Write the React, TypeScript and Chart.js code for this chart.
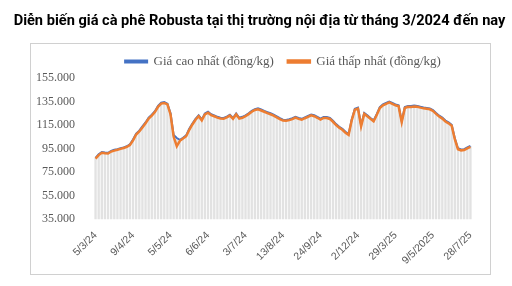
import React, { useEffect, useRef } from "react";
import { Chart, registerables } from "chart.js";

Chart.register(...registerables);

const TITLE = "Diễn biến giá cà phê Robusta tại thị trường nội địa từ tháng 3/2024 đến nay";
const SERIES_HIGH_NAME = "Giá cao nhất (đồng/kg)";
const SERIES_LOW_NAME = "Giá thấp nhất (đồng/kg)";

const tickLabels = ["5/3/24", "9/4/24", "5/5/24", "6/6/24", "3/7/24", "13/8/24", "24/9/24", "2/12/24", "29/3/25", "9/5/2025", "28/7/25"];
const TICK_EVERY = 12;

const highPrices = [87000, 90200, 92000, 91600, 91400, 93000, 94000, 94500, 95300, 96000, 97000, 98600, 102800, 107800, 110200, 113800, 117200, 121300, 123800, 126800, 131300, 134000, 134500, 133200, 125000, 106500, 104000, 102500, 104200, 106200, 111800, 116200, 120200, 123200, 119800, 124800, 126300, 124200, 123200, 122000, 121300, 121000, 122200, 123800, 121000, 124800, 121200, 122000, 123300, 125000, 127000, 128500, 129200, 128200, 127000, 126000, 125000, 123800, 122300, 120800, 119600, 119400, 120000, 120800, 122000, 121000, 120300, 121600, 122800, 124000, 123300, 122000, 120400, 121800, 121800, 121000, 118600, 115800, 113600, 111800, 109300, 107500, 119800, 128800, 129800, 115000, 125300, 123300, 121000, 119000, 124300, 130300, 132600, 133800, 135000, 133800, 132600, 131800, 118300, 130300, 131300, 131200, 131600, 131300, 130600, 130000, 129600, 129200, 127800, 125300, 123000, 121300, 118800, 117300, 115300, 103800, 95300, 94300, 94500, 96000, 97300];

const lowPrices = [86500, 89500, 91500, 91000, 90800, 92500, 93300, 94000, 94800, 95500, 96500, 98000, 102000, 107000, 109500, 113000, 116500, 120500, 123000, 126000, 130500, 133200, 133800, 132500, 124000, 105000, 97000, 101600, 103500, 105500, 111000, 115500, 119500, 122500, 119000, 124000, 125500, 123500, 122500, 121300, 120600, 120300, 121500, 123000, 120300, 124000, 120500, 121200, 122500, 124300, 126300, 127800, 128400, 127400, 126300, 125200, 124200, 123000, 121500, 120000, 118800, 118600, 119200, 120000, 121300, 120300, 119500, 120800, 122000, 123300, 122500, 121200, 119600, 121000, 121000, 120200, 117800, 115000, 112800, 111000, 108500, 106700, 119000, 128000, 129000, 114000, 124500, 122500, 120300, 118200, 123500, 129500, 131800, 133000, 134200, 133000, 131800, 131000, 117500, 129500, 130500, 130400, 130800, 130500, 129800, 129200, 128800, 128400, 127000, 124500, 122300, 120500, 118000, 116500, 114500, 103000, 94500, 93500, 93800, 95200, 96500];

const Y_MIN = 35000;
const Y_MAX = 155000;
const Y_STEP = 20000;

const fmt = (v: number) => String(Math.round(v)).replace(/\B(?=(\d{3})+(?!\d))/g, ".");

const decorPlugin = {
  id: "decor",
  beforeDraw(chart: any) {
    const ctx = chart.ctx;
    ctx.save();
    ctx.fillStyle = "#ffffff";
    ctx.fillRect(0, 0, chart.width, chart.height);
    ctx.strokeStyle = "#d0d0d0";
    ctx.lineWidth = 1;
    ctx.strokeRect(30.5, 43.5, 460, 231);
    ctx.fillStyle = "#000000";
    ctx.font = "bold 14.6px Roboto";
    ctx.textAlign = "center";
    ctx.textBaseline = "alphabetic";
    ctx.fillText(TITLE, 259.5, 25);
    ctx.restore();
  },
};

export default function App() {
  const ref = useRef<HTMLCanvasElement | null>(null);
  useEffect(() => {
    if (!ref.current) return;
    const labels = lowPrices.map((_, i) => (i % TICK_EVERY === 0 ? tickLabels[i / TICK_EVERY] : ""));
    const chart = new Chart(ref.current, {
      type: "bar",
      data: {
        labels,
        datasets: [
          {
            type: "line",
            label: SERIES_HIGH_NAME,
            data: highPrices,
            borderColor: "#4472C4",
            backgroundColor: "#4472C4",
            borderWidth: 2,
            pointRadius: 0,
            tension: 0,
            order: 1,
          } as any,
          {
            type: "line",
            label: SERIES_LOW_NAME,
            data: lowPrices,
            borderColor: "#ED7D31",
            backgroundColor: "#ED7D31",
            borderWidth: 2.5,
            pointRadius: 0,
            tension: 0,
            order: 0,
          } as any,
          {
            type: "bar",
            label: "fill",
            data: highPrices,
            backgroundColor: "#e2e2e2",
            borderWidth: 0,
            barPercentage: 0.75,
            categoryPercentage: 1,
            order: 2,
          },
        ],
      },
      plugins: [decorPlugin],
      options: {
        animation: false,
        responsive: false,
        layout: { padding: { left: 25, right: 40, top: 41, bottom: 17 } },
        plugins: {
          legend: {
            display: true,
            position: "top",
            fullSize: false,
            labels: {
              filter: (item: any) => item.datasetIndex < 2,
              sort: (a: any, b: any) => a.datasetIndex - b.datasetIndex,
              boxWidth: 22,
              boxHeight: 2,
              padding: 14,
              color: "#595959",
              font: { family: "'Liberation Serif', serif", size: 13 },
            },
          },
          tooltip: { enabled: false },
        },
        scales: {
          x: {
            grid: { display: false },
            border: { display: false },
            ticks: {
              autoSkip: false,
              maxRotation: 45,
              minRotation: 45,
              padding: 2,
              color: "#595959",
              font: { family: "'Liberation Sans', sans-serif", size: 10.5 },
              callback: (_v: any, i: number) => (i % TICK_EVERY === 0 ? tickLabels[i / TICK_EVERY] : null),
            },
          },
          y: {
            min: Y_MIN,
            max: Y_MAX,
            grid: { display: false },
            border: { display: false },
            ticks: {
              stepSize: Y_STEP,
              padding: 11,
              color: "#595959",
              font: { family: "'Liberation Serif', serif", size: 12 },
              callback: (v: any) => fmt(Number(v)),
            },
          },
        },
      },
    });
    return () => chart.destroy();
  }, []);
  return (
    <div style={{ position: "absolute", left: 0, top: 0, width: 512, height: 286, background: "#fff" }}>
      <canvas ref={ref} width={512} height={286} />
    </div>
  );
}
